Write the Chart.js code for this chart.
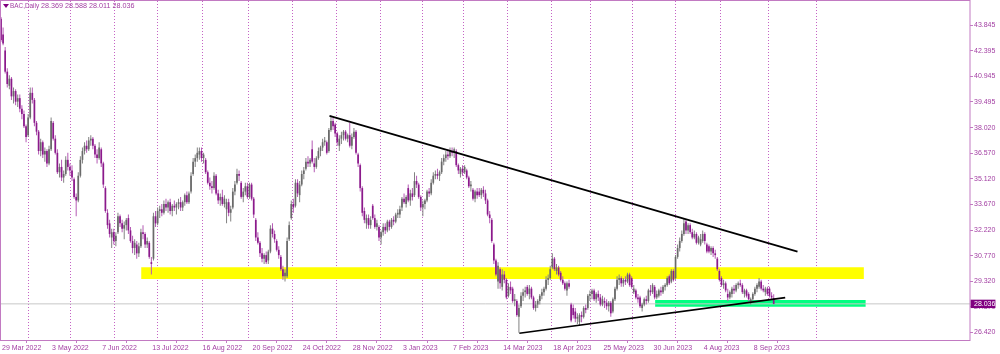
<!DOCTYPE html>
<html>
<head>
<meta charset="utf-8">
<script src="https://cdn.jsdelivr.net/npm/chart.js@4.4.0/dist/chart.umd.min.js"></script>
<style>
  html, body { margin: 0; padding: 0; background: #fff; }
  #quadro { position: relative; width: 1000px; height: 354px; }
  #titulo { position: absolute; left: 0; top: 0; font-family: 'Liberation Sans', Arial, sans-serif; color: #a23ea2; white-space: pre; }
  #titulo .seta { position: absolute; left: 3px; top: 4px; width: 0; height: 0; border-left: 3px solid transparent; border-right: 3px solid transparent; border-top: 4px solid #800080; }
  #nome { position: absolute; left: 10px; top: 1px; font-size: 6.4px; line-height: 10px; }
  #valores { position: absolute; left: 41px; top: 1px; font-size: 7.2px; line-height: 10px; }
</style>
</head>
<body>
<div id="quadro">
  <canvas id="grafico-bac" width="1000" height="354"></canvas>
  <div id="titulo"><span class="seta"></span><span id="nome">BAC,Daily</span><span id="valores"></span></div>
</div>
<script>
// velas diarias do BAC
const abertura = [
44.2,43.3,42.4,41.2,40.4,40.8,39.8,40.1,39.5,39.7,
39.1,38.8,38.1,37.6,38.6,40.0,39.6,38.3,37.8,36.7,
37.2,36.5,36.7,36.0,36.8,38.3,37.4,36.6,35.5,35.8,
35.2,35.4,36.2,35.8,35.6,35.1,34.1,33.9,35.3,36.2,
36.7,37.0,36.8,37.3,37.4,37.0,36.5,36.3,36.8,36.0,
34.6,33.2,32.6,31.8,32.1,31.6,32.1,33.0,32.6,32.3,
32.5,32.9,32.2,31.6,31.2,31.4,30.9,31.3,32.1,32.0,
31.4,31.5,30.4,30.6,33.0,32.6,33.3,33.4,33.2,33.7,
33.5,33.8,33.3,33.6,33.5,33.7,33.8,33.5,33.8,34.2,
33.8,34.4,35.4,36.1,36.3,36.5,36.7,36.3,36.2,35.5,
34.9,34.7,34.6,35.3,34.3,33.9,34.1,33.7,33.4,33.8,
33.2,33.5,34.4,34.9,35.4,34.9,34.1,34.4,34.7,34.1,
34.8,34.0,32.8,31.8,31.5,30.9,30.6,30.8,30.5,31.0,
32.3,32.0,31.6,31.1,30.7,30.0,29.6,29.6,31.7,32.9,
33.7,33.6,34.9,34.2,34.8,35.4,35.7,36.1,36.0,36.8,
36.0,35.8,36.3,36.7,36.9,37.2,37.2,36.7,37.9,38.4,
38.2,37.7,37.0,37.4,37.6,37.8,37.4,37.6,37.0,37.5,
37.8,36.5,35.9,34.6,33.3,32.6,32.9,32.5,33.6,32.9,
32.4,32.4,31.8,32.1,32.4,32.2,32.7,32.4,32.8,32.7,
33.1,33.1,33.5,34.0,33.7,34.6,33.9,34.3,34.2,35.0,
34.8,34.1,33.5,33.7,33.9,34.4,34.3,34.9,35.3,35.4,
35.3,35.5,36.1,36.3,36.5,36.4,36.7,36.6,36.7,35.9,
35.4,35.7,35.5,35.6,35.2,34.7,34.5,34.0,34.4,34.4,
34.2,34.5,34.3,33.9,33.1,32.8,31.4,30.5,29.3,30.0,
29.0,29.7,29.4,28.5,29.0,28.9,28.2,28.2,27.3,27.9,
28.5,28.7,29.0,28.6,28.9,28.4,27.8,28.0,28.2,28.5,
28.7,28.9,29.4,29.5,30.1,30.6,29.9,30.1,29.8,29.4,
29.2,28.8,29.2,28.0,27.8,27.6,27.2,27.0,27.4,27.3,
27.8,27.8,28.5,28.6,28.8,28.3,28.6,28.4,28.0,28.2,
28.1,27.9,28.1,27.6,28.3,28.9,29.4,29.5,29.2,29.4,
29.3,29.7,29.5,28.7,28.8,28.4,28.4,27.8,28.0,28.3,
28.2,28.8,28.7,29.0,28.4,28.5,28.8,28.7,29.0,29.1,
29.6,29.3,29.9,29.5,30.7,31.2,31.6,32.0,32.7,32.2,
32.5,32.1,31.8,32.0,31.5,31.4,31.6,32.0,31.4,31.3,
31.0,31.2,30.9,30.6,29.9,29.5,29.1,29.2,28.6,28.4,
28.6,28.9,28.8,29.1,29.2,29.1,28.6,28.8,28.6,28.1,
28.3,28.6,28.9,29.0,29.3,28.9,28.7,28.9,28.9,28.5,
28.369
]
const maxima = [
44.3,43.7,42.6,41.4,41.0,40.9,40.3,40.2,39.9,39.9,
39.3,39.0,38.2,38.8,40.3,40.3,39.7,38.4,37.9,37.4,
37.3,36.9,36.8,37.0,38.6,38.4,37.6,36.8,36.0,36.2,
35.6,36.4,36.6,36.0,35.9,35.2,34.3,35.5,36.4,36.9,
37.2,37.3,37.5,37.6,37.5,37.1,36.8,37.2,36.9,36.1,
34.7,33.4,32.8,32.3,32.3,32.1,33.2,33.1,32.8,32.7,
32.9,33.1,32.4,31.9,31.7,31.6,31.5,32.3,32.5,32.1,
31.8,31.6,30.7,33.2,33.3,33.5,33.6,33.7,33.9,34.0,
33.9,34.0,33.7,33.9,33.8,34.0,34.1,33.9,34.3,34.4,
34.4,35.5,36.3,36.5,36.9,36.9,36.9,36.6,36.3,35.6,
35.2,35.0,35.5,35.4,34.5,34.3,34.5,34.2,34.0,34.0,
33.6,34.6,35.0,35.7,35.6,35.0,34.6,34.9,34.9,34.9,
34.9,34.1,32.9,32.1,31.6,31.2,30.9,31.0,31.1,32.5,
32.6,32.2,31.7,31.3,30.8,30.2,30.0,31.8,32.7,33.9,
34.0,35.1,35.1,35.0,35.6,35.8,36.3,36.4,36.3,37.3,
36.3,36.4,36.9,37.0,37.4,37.5,37.3,38.0,38.7,38.6,
38.3,37.8,37.6,37.8,37.9,37.9,37.7,38.3,37.7,38.0,
37.9,36.6,36.0,34.7,33.5,33.1,33.1,33.0,33.7,33.1,
32.8,32.5,32.2,32.6,32.6,32.8,32.8,32.9,33.0,33.2,
33.4,33.6,34.1,34.3,34.2,34.8,34.5,34.6,35.5,35.3,
34.9,34.2,33.9,34.0,34.5,34.6,35.1,35.5,35.6,35.7,
35.6,36.3,36.5,36.7,36.8,36.9,36.9,36.9,36.8,36.0,
35.8,35.9,35.9,35.7,35.3,35.0,34.6,34.5,34.6,34.6,
34.6,34.7,34.5,34.0,33.3,32.9,31.5,30.6,30.4,30.1,
30.0,29.9,29.5,29.2,29.3,29.0,28.6,28.3,28.0,28.7,
28.9,29.0,29.1,29.1,29.0,28.5,28.2,28.3,28.6,28.9,
29.0,29.6,29.7,30.2,30.9,30.7,30.3,30.2,29.9,29.6,
29.3,29.3,29.4,28.1,28.0,27.8,27.5,27.5,27.6,27.9,
28.0,28.6,28.8,28.9,28.9,28.7,28.8,28.6,28.5,28.4,
28.3,28.2,28.2,28.4,29.0,29.6,29.7,29.6,29.5,29.6,
29.8,29.8,29.6,29.1,28.9,28.6,28.5,28.1,28.4,28.5,
28.9,29.1,29.2,29.1,28.8,28.9,29.0,29.1,29.2,29.6,
29.7,30.0,30.0,30.8,31.4,31.8,32.2,32.9,32.8,32.6,
32.6,32.3,32.2,32.1,31.9,32.0,32.2,32.1,31.5,31.4,
31.3,31.3,31.1,30.7,30.0,29.6,29.4,29.3,28.9,28.8,
29.0,29.1,29.2,29.3,29.4,29.2,28.9,28.9,28.7,28.4,
28.7,29.0,29.2,29.5,29.4,29.1,29.0,29.0,29.0,28.7,
28.588
]
const minima = [
42.9,42.7,41.1,40.3,40.2,39.6,39.4,39.3,39.2,38.9,
38.5,38.0,37.2,37.5,38.5,39.4,38.1,37.6,36.5,36.4,
36.3,36.1,35.8,35.9,36.7,37.3,36.5,35.4,35.2,35.0,
34.9,35.3,35.6,35.3,35.0,34.0,33.0,33.8,35.2,36.0,
36.5,36.6,36.7,37.0,36.8,36.3,36.0,36.2,35.8,34.6,
33.2,32.3,31.8,31.2,31.4,31.3,32.0,32.4,32.1,31.7,
32.2,32.0,31.5,30.9,30.8,30.6,30.7,31.2,31.7,31.2,
31.2,30.6,29.7,30.5,32.4,32.5,32.9,33.0,33.1,33.3,
33.2,33.1,33.0,33.3,33.1,33.4,33.3,33.3,33.6,33.7,
33.7,34.3,35.3,35.8,36.1,36.2,36.1,36.0,35.4,34.8,
34.5,34.3,34.5,34.2,33.7,33.6,33.6,33.5,32.6,33.0,
32.7,33.4,34.2,34.8,35.0,34.0,33.8,34.2,34.0,34.0,
33.9,32.9,31.6,31.4,30.7,30.4,30.3,30.3,30.3,30.9,
31.8,31.5,31.0,30.6,29.9,29.4,29.3,29.5,31.6,32.8,
33.2,33.5,34.1,33.8,34.7,35.1,35.6,35.8,35.8,36.0,
35.5,35.7,36.2,36.4,36.7,37.0,36.5,36.6,37.8,37.9,
37.5,37.0,36.7,37.1,37.3,37.3,37.2,36.9,36.8,37.4,
36.5,35.8,34.4,33.0,32.6,32.3,32.3,32.3,32.8,32.3,
32.2,31.6,31.4,31.9,32.0,32.1,32.2,32.3,32.5,32.6,
32.9,32.9,33.3,33.7,33.5,33.8,33.6,33.9,34.1,34.6,
34.0,33.3,33.0,33.4,33.8,34.1,34.2,34.8,35.1,35.1,
35.0,35.4,35.9,36.1,36.2,36.3,36.4,36.3,35.8,35.4,
35.2,35.3,35.4,35.1,34.6,34.4,33.9,33.8,34.0,34.1,
34.0,34.1,33.7,33.0,32.6,31.5,30.3,29.6,28.9,28.9,
28.8,29.2,28.3,28.4,28.6,28.1,27.9,27.3,26.4,27.8,
28.2,28.4,28.5,28.3,28.3,27.7,27.6,27.8,28.0,28.3,
28.5,28.8,29.1,29.4,30.0,29.9,29.7,29.6,29.3,29.1,
28.8,28.5,28.9,27.0,27.2,27.0,26.9,26.8,27.0,27.2,
27.5,27.7,28.2,28.3,28.2,28.1,28.2,27.9,27.9,27.8,
27.7,27.6,27.3,27.5,28.2,28.8,29.1,29.0,29.0,29.1,
29.2,29.0,28.9,28.6,28.3,28.1,27.8,27.6,27.9,28.0,
28.1,28.5,28.6,28.3,28.3,28.4,28.5,28.6,28.8,29.0,
29.1,29.2,29.3,29.4,30.6,31.0,31.5,31.9,32.0,32.0,
32.0,31.7,31.7,31.4,31.4,31.3,31.5,31.4,30.9,30.9,
30.8,30.7,30.6,29.9,29.3,29.0,28.9,28.7,28.2,28.3,
28.4,28.6,28.7,28.9,29.0,28.6,28.4,28.4,28.2,28.0,
28.2,28.5,28.7,28.9,28.8,28.7,28.5,28.5,28.4,28.3,
28.011
]
const fechamento = [
43.0,42.8,41.2,40.5,40.8,39.8,40.1,39.5,39.7,39.1,
38.8,38.1,37.5,38.6,40.0,39.6,38.3,37.8,36.7,37.2,
36.5,36.7,36.0,36.8,38.4,37.4,36.6,35.5,35.8,35.2,
35.4,36.2,35.8,35.6,35.2,34.1,33.9,35.3,36.2,36.7,
37.0,36.8,37.3,37.4,37.0,36.5,36.3,36.9,36.0,34.8,
33.3,32.5,32.0,32.1,31.6,31.9,33.0,32.6,32.3,32.5,
32.8,32.2,31.6,31.2,31.5,30.9,31.3,32.1,32.0,31.4,
31.6,30.7,30.3,33.0,32.6,33.3,33.4,33.2,33.7,33.5,
33.8,33.3,33.6,33.5,33.7,33.8,33.5,33.8,34.2,33.8,
34.3,35.3,36.1,36.3,36.6,36.7,36.3,36.5,35.5,34.9,
34.7,34.6,35.3,34.3,33.9,34.1,33.7,34.0,33.8,33.2,
33.4,34.4,34.8,35.4,35.3,34.1,34.4,34.7,34.1,34.8,
34.0,33.1,31.8,31.5,30.9,30.6,30.8,30.4,31.0,32.3,
32.0,31.7,31.1,30.8,30.0,29.6,29.8,31.6,32.5,33.7,
33.5,34.9,34.3,34.8,35.4,35.6,36.1,36.0,36.2,36.1,
35.8,36.3,36.7,36.9,37.2,37.3,36.6,37.9,38.4,38.1,
37.7,37.2,37.4,37.6,37.8,37.4,37.6,37.0,37.5,37.8,
36.6,36.0,34.6,33.2,32.8,32.9,32.5,32.8,32.9,32.4,
32.6,31.8,32.1,32.4,32.2,32.7,32.4,32.8,32.7,33.1,
33.2,33.4,34.0,33.8,34.1,33.9,34.3,34.1,35.0,34.8,
34.1,33.5,33.7,33.9,34.4,34.3,34.9,35.3,35.4,35.3,
35.5,36.1,36.3,36.5,36.4,36.7,36.6,36.8,35.9,35.6,
35.7,35.5,35.8,35.2,34.7,34.8,34.0,34.4,34.2,34.2,
34.5,34.3,33.9,33.1,32.9,31.6,30.5,29.7,30.2,29.2,
29.7,29.4,28.4,29.0,28.8,28.2,28.3,27.4,27.8,28.5,
28.7,28.8,28.6,28.9,28.4,27.8,28.0,28.2,28.5,28.7,
28.9,29.4,29.5,30.0,30.6,30.0,30.1,29.7,29.4,29.2,
28.9,29.2,29.0,27.1,27.4,27.2,27.3,27.4,27.3,27.8,
27.7,28.5,28.6,28.8,28.3,28.6,28.4,28.0,28.3,28.1,
27.9,28.1,27.5,28.3,28.9,29.4,29.5,29.2,29.4,29.3,
29.7,29.1,29.0,28.9,28.4,28.3,27.9,28.0,28.3,28.2,
28.8,28.7,29.1,28.4,28.6,28.8,28.7,29.0,29.1,29.5,
29.2,29.9,29.4,30.7,31.2,31.6,32.0,32.6,32.2,32.5,
32.1,31.8,32.0,31.5,31.8,31.7,32.0,31.6,31.0,31.0,
31.2,30.9,30.8,30.0,29.4,29.1,29.2,28.8,28.4,28.7,
28.9,28.8,29.1,29.2,29.1,28.7,28.8,28.5,28.3,28.3,
28.6,28.9,29.1,29.3,28.9,28.8,28.9,28.6,28.5,28.4,
28.036
]

// eixo do tempo: barra de cada rotulo e barras de inicio de mes (linhas pontilhadas)
const datasEixo = ['29 Mar 2022', '3 May 2022', '7 Jun 2022', '13 Jul 2022', '16 Aug 2022', '20 Sep 2022',
  '24 Oct 2022', '28 Nov 2022', '3 Jan 2023', '7 Feb 2023', '14 Mar 2023', '18 Apr 2023',
  '25 May 2023', '30 Jun 2023', '4 Aug 2023', '8 Sep 2023']
const barrasDatas = [0, 24, 48, 72, 96, 120, 144, 168, 192, 216, 240, 264, 288, 312, 336, 360]
const inicioMes = [3, 23, 44, 65, 85, 108, 129, 150, 171, 192, 212, 231, 254, 273, 292, 313, 333, 356, 379]

// escala de precos
const precosEixo = [43.845, 42.395, 40.945, 39.495, 38.020, 36.570, 35.120, 33.670, 32.220, 30.770, 29.320, 27.870, 26.420]

// zonas e linhas de tendencia (barra inicial/final e precos)
const zonaAmarelaBarras = [67.1, 413.2]
const zonaAmarelaPrecos = [29.45, 30.11]
const zonaVerdeBarras = [313.2, 414.1]
const zonaVerdePrecos = [27.88, 28.26]
const linhaSuperiorBarras = [157.3, 381.4]
const linhaSuperiorPrecos = [38.69, 31.00]
const linhaInferiorBarras = [248.2, 375.5]
const linhaInferiorPrecos = [26.37, 28.39]

const xMin = 0
const xMax = 464
const ultimo = fechamento.length - 1
const precoAtual = fechamento[ultimo]

document.querySelector('#valores').textContent =
  [abertura[ultimo], maxima[ultimo], minima[ultimo], fechamento[ultimo]].map(v => v.toFixed(3)).join(' ')

const corTexto = '#a23ea2'
const fonteEixo = { family: "'Liberation Sans', Arial, sans-serif", size: 7 }
const sobe = i => fechamento[i] >= abertura[i]

const pavios = fechamento.map((c, i) => ({ x: i, y: [minima[i], maxima[i]] }))
const corpos = fechamento.map((c, i) => ({ x: i, y: [abertura[i], c] }))

function zona(barras, precos, cor) {
  return {
    type: 'line',
    data: [{ x: barras[0], y: precos[1] }, { x: barras[1], y: precos[1] }],
    fill: { value: precos[0] },
    backgroundColor: cor,
    borderColor: 'transparent',
    borderWidth: 0,
    pointRadius: 0,
    xAxisID: 'x', yAxisID: 'y',
    order: 10
  }
}

function linha(barras, precos) {
  return {
    type: 'line',
    data: barras.map((b, i) => ({ x: b, y: precos[i] })),
    borderColor: '#000000',
    borderWidth: 1.7,
    pointRadius: 0,
    fill: false,
    xAxisID: 'x', yAxisID: 'y',
    order: 1
  }
}

const semPadding = escala => {
  escala.paddingTop = 0
  escala.paddingBottom = 0
  escala.paddingLeft = 0
  escala.paddingRight = 0
}

// moldura da area do grafico
const moldura = {
  id: 'moldura',
  afterDatasetsDraw(chart) {
    const { ctx, chartArea: a } = chart
    ctx.save()
    ctx.strokeStyle = '#c27ac2'
    ctx.lineWidth = 1
    ctx.strokeRect(a.left - 0.5, a.top - 0.5, a.right - a.left + 0.5, a.bottom - a.top + 1)
    ctx.restore()
  }
}

let graficoBac = new Chart(document.querySelector('#grafico-bac').getContext('2d'), {
  type: 'bar',
  data: {
    datasets: [
      zona(zonaAmarelaBarras, zonaAmarelaPrecos, '#ffff00'),
      zona(zonaVerdeBarras, zonaVerdePrecos, '#00ff80'),
      {
        type: 'line',
        data: [{ x: xMin, y: precoAtual }, { x: xMax, y: precoAtual }],
        borderColor: '#c8c8c8',
        borderWidth: 1,
        pointRadius: 0,
        xAxisID: 'x', yAxisID: 'y',
        order: 9
      },
      {
        data: pavios,
        backgroundColor: ctx => sobe(ctx.dataIndex) ? '#828282' : '#b45ab4',
        barThickness: 1,
        inflateAmount: 0,
        grouped: false,
        xAxisID: 'x', yAxisID: 'y',
        order: 6
      },
      {
        data: corpos,
        backgroundColor: ctx => sobe(ctx.dataIndex) ? '#6a6a6a' : '#8b1a8b',
        barThickness: 1.7,
        inflateAmount: 0,
        minBarLength: 1,
        grouped: false,
        xAxisID: 'x', yAxisID: 'y',
        order: 5
      },
      linha(linhaSuperiorBarras, linhaSuperiorPrecos),
      linha(linhaInferiorBarras, linhaInferiorPrecos)
    ]
  },
  options: {
    responsive: false,
    animation: false,
    events: [],
    layout: { padding: { top: 1, left: 1, right: 0, bottom: 0 }, autoPadding: false },
    plugins: { legend: { display: false }, tooltip: { enabled: false } },
    scales: {
      x: {
        type: 'linear', position: 'bottom', min: xMin, max: xMax, offset: false,
        afterBuildTicks: escala => { escala.ticks = barrasDatas.map(v => ({ value: v })) },
        afterFit: escala => { escala.height = 14; semPadding(escala) },
        ticks: {
          callback: (v, i) => datasEixo[i],
          autoSkip: false, maxRotation: 0, minRotation: 0,
          align: 'start', labelOffset: 1, padding: 1,
          color: corTexto, font: fonteEixo
        },
        grid: { drawOnChartArea: false, tickLength: 3, color: '#c27ac2' },
        border: { display: false }
      },
      meses: {
        type: 'linear', position: 'bottom', min: xMin, max: xMax, offset: false, z: 1,
        afterBuildTicks: escala => { escala.ticks = inicioMes.map(v => ({ value: v })) },
        afterFit: escala => { escala.height = 0; semPadding(escala) },
        ticks: { display: false },
        grid: { drawTicks: false, color: '#c563c5', lineWidth: 1 },
        border: { display: false, dash: [1, 2] }
      },
      y: {
        type: 'linear', position: 'right', min: 25.988, max: 45.206,
        afterBuildTicks: escala => { escala.ticks = [...precosEixo, precoAtual].map(v => ({ value: v })) },
        afterFit: escala => { escala.width = 30; semPadding(escala) },
        ticks: {
          callback: v => v.toFixed(3),
          autoSkip: false,
          padding: 1,
          font: fonteEixo,
          color: ctx => ctx.tick && ctx.tick.value === precoAtual ? '#ffffff' : corTexto,
          showLabelBackdrop: ctx => !!(ctx.tick && ctx.tick.value === precoAtual),
          backdropColor: '#800080',
          backdropPadding: { left: 3.5, right: 0, top: 0, bottom: 0 }
        },
        grid: {
          drawOnChartArea: false, tickLength: 3,
          color: '#c27ac2',
          tickColor: ctx => ctx.tick && ctx.tick.value === precoAtual ? 'rgba(0,0,0,0)' : '#c27ac2'
        },
        border: { display: false }
      }
    }
  },
  plugins: [moldura]
})
</script>
</body>
</html>
